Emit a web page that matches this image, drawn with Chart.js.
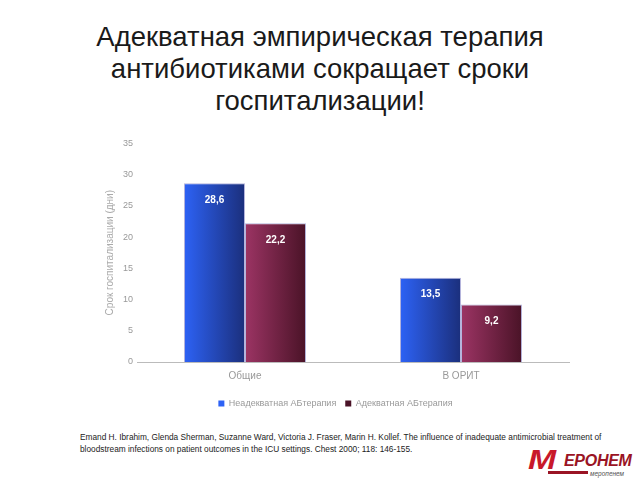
<!DOCTYPE html>
<html><head><meta charset="utf-8">
<script src="https://cdn.jsdelivr.net/npm/chart.js@4"></script>
<style>
html,body{margin:0;padding:0;background:#fff;width:640px;height:480px;overflow:hidden;font-family:"Liberation Sans",Arial,sans-serif;}
#title{position:absolute;left:0;top:21px;width:640px;text-align:center;font-size:27.5px;line-height:32px;color:#1a1a1a;}
#wrap{position:absolute;left:0;top:134px;width:640px;height:286px;}
#cite{position:absolute;left:80px;top:431px;width:540px;font-size:8.3px;line-height:12px;color:#222;}
#logo{position:absolute;left:528px;top:448px;width:112px;height:32px;}
#logo .m{position:absolute;left:0;top:-3px;font-size:27px;font-weight:bold;font-style:italic;color:#c8182a;transform:scaleX(1.25);transform-origin:left top;}
#logo .big{position:absolute;left:36px;top:4px;font-size:16px;font-weight:bold;font-style:italic;color:#9a1424;letter-spacing:-0.3px;}
#logo .bar{position:absolute;left:20px;top:23px;width:40px;height:3px;background:#9a1424;}
#logo .small{position:absolute;left:62px;top:22px;font-size:6.5px;font-style:italic;color:#555;}
</style></head>
<body>
<div id="title">Адекватная эмпирическая терапия<br>антибиотиками сокращает сроки<br>госпитализации!</div>
<div id="wrap"><canvas id="c" width="640" height="286"></canvas></div>
<div id="cite">Emand H. Ibrahim, Glenda Sherman, Suzanne Ward, Victoria J. Fraser, Marin H. Kollef. The influence of inadequate antimicrobial treatment of bloodstream infections on patient outcomes in the ICU settings. Chest 2000; 118: 146-155.</div>
<div id="logo"><span class="m">М</span><span class="big">ЕРОНЕМ</span><span class="bar"></span><span class="small">меропенем</span></div>
<script>
const categories = ["Общие", "В ОРИТ"];
const inadequate = [28.6, 13.5];
const adequate = [22.2, 9.2];
const seriesNames = ["Неадекватная АБтерапия", "Адекватная АБтерапия"];
const yTitle = "Срок госпитализации (дни)";

const gradColors = [["#2d62f5", "#1b2f7c"], ["#9c3464", "#4a1327"]];
const CAT_PCT = 0.565;

function barGradient(c) {
  const chart = c.chart;
  const di = c.datasetIndex;
  const xs = chart.scales && chart.scales.x;
  if (!chart.chartArea || !xs || c.dataIndex === undefined) return gradColors[di][0];
  const catW = xs.width / chart.data.labels.length;
  const w = catW * CAT_PCT / chart.data.datasets.length;
  const center = xs.getPixelForValue(c.dataIndex);
  const l = center - w * chart.data.datasets.length / 2 + di * w;
  const g = chart.ctx.createLinearGradient(l, 0, l + w, 0);
  g.addColorStop(0, gradColors[di][0]);
  g.addColorStop(1, gradColors[di][1]);
  return g;
}

const labelPlugin = {
  id: 'vals',
  afterDatasetsDraw(chart) {
    const ctx = chart.ctx;
    ctx.save();
    ctx.font = "bold 10px 'Liberation Sans', Arial, sans-serif";
    ctx.fillStyle = "#ffffff";
    ctx.textAlign = "center";
    ctx.textBaseline = "middle";
    chart.data.datasets.forEach((ds, di) => {
      const meta = chart.getDatasetMeta(di);
      meta.data.forEach((el, i) => {
        ctx.fillText(String(ds.data[i]).replace('.', ','), el.x, el.y + 17);
      });
    });
    ctx.restore();
  }
};

new Chart(document.getElementById('c'), {
  type: 'bar',
  data: {
    labels: categories,
    datasets: [
      { label: seriesNames[0], data: inadequate, backgroundColor: barGradient, borderColor: "#b4b4dc", borderWidth: 1 },
      { label: seriesNames[1], data: adequate, backgroundColor: barGradient, borderColor: "#b4b4dc", borderWidth: 1 }
    ]
  },
  options: {
    responsive: false,
    animation: false,
    layout: { padding: { left: 102, right: 71, top: 8, bottom: 2 } },
    datasets: { bar: { categoryPercentage: CAT_PCT, barPercentage: 1.0 } },
    scales: {
      x: {
        grid: { display: false, drawTicks: false },
        border: { color: "#bbbbbb", width: 1 },
        ticks: { color: "#999999", font: { size: 10, family: "'Liberation Sans', Arial, sans-serif" }, padding: 8 }
      },
      y: {
        min: 0, max: 35,
        afterFit(scale) { scale.width = 35; },
        ticks: { stepSize: 5, color: "#999999", font: { size: 9, family: "'Liberation Sans', Arial, sans-serif" }, padding: 4 },
        grid: { display: false, drawTicks: false },
        border: { display: false },
        title: { display: true, text: yTitle, color: "#aaaaaa", font: { size: 10, family: "'Liberation Sans', Arial, sans-serif" }, padding: 2 }
      }
    },
    plugins: {
      legend: {
        position: 'bottom',
        labels: {
          boxWidth: 6, boxHeight: 6, color: "#999999", font: { size: 9, family: "'Liberation Sans', Arial, sans-serif" }, padding: 9,
          generateLabels(chart) {
            return chart.data.datasets.map((ds, i) => ({
              text: ds.label, fillStyle: gradColors[i][i === 0 ? 0 : 1], strokeStyle: gradColors[i][0], lineWidth: 0, datasetIndex: i, fontColor: "#999999"
            }));
          }
        }
      },
      tooltip: { enabled: false }
    }
  },
  plugins: [labelPlugin]
});
</script>
</body></html>
